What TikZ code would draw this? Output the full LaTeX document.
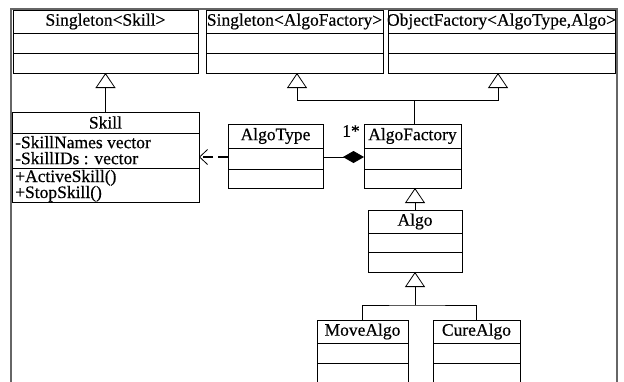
\documentclass[tikz,border=0pt]{standalone}
\usepackage{fontspec}
\setmainfont{Liberation Serif}
\newfontfamily\umlfont{Liberation Serif}[FakeBold=0.5]
\usetikzlibrary{arrows.meta,fit}
\newcommand\umlbox[8]{%
  \node[cls, fit={(#2,#3) (#4,#5)}] (#1) {};
  \draw[cl] (#1.west |- 0,#6) -- (#1.east |- 0,#6);
  \draw[cl] (#1.west |- 0,#7) -- (#1.east |- 0,#7);
  \node[ttl] (#1t) at ({(#2+#4)/2},{(#3+#6)/2}) {#8};
}
\begin{document}
\begin{tikzpicture}[x=1pt,y=-1pt,
  cls/.style={draw, line width=0.8pt, inner sep=0pt, outer sep=0pt, fill=white},
  cl/.style={line width=0.8pt},
  ttl/.style={font=\umlfont\fontsize{17.5}{16}\selectfont, inner sep=0pt},
  inh/.style={line width=0.8pt, -{Triangle[open,length=15pt,width=20pt,line width=0.8pt]}},
  lnk/.style={line width=0.8pt},
  dep/.style={line width=1.8pt, dash pattern=on 10pt off 5pt, -{Straight Barb[length=8pt,width=15pt,line width=0.8pt]}},
  comp/.style={line width=0.8pt, -{Diamond[length=21pt,width=12pt]}},
  frm/.style={line width=1.6pt, draw=black!60}]
\useasboundingbox (0,0) rectangle (624,381);
\clip (0,0) rectangle (624,381);
\fill[white] (0,0) rectangle (624,381);
\draw[frm] (11,385) -- (11,9) -- (617,9) -- (617,385);
\umlbox{ss}{13}{10}{198}{73}{33}{53}{Singleton<Skill>}
\umlbox{sa}{206}{10}{383}{73}{33}{53}{Singleton<AlgoFactory>}
\umlbox{of}{388}{10}{615}{73}{33}{53}{ObjectFactory<AlgoType,Algo>}
\umlbox{sk}{12}{112}{199}{202}{133}{168}{Skill}
\umlbox{at}{228}{124}{323}{188}{148}{169}{AlgoType}
\umlbox{af}{364}{124}{461}{188}{148}{169}{AlgoFactory}
\umlbox{al}{368}{210}{462}{272}{233}{252}{Algo}
\umlbox{ma}{317}{320}{408}{400}{343}{363}{MoveAlgo}
\umlbox{ca}{433}{320}{520}{400}{343}{363}{CureAlgo}
\node[ttl, anchor=west, align=left] (ska) at (15,150.2) {-SkillNames vector\\-SkillIDs : vector};
\node[ttl, anchor=west, align=left] (skm) at (15,185.8) {+ActiveSkill()\\+StopSkill()};
\node[ttl] (mult) at (351,131) {1*};
% inheritance
\draw[inh] (sk.north) -- (ss.south);
\coordinate (j1) at (414,100);
\coordinate (tsa) at (297,73);
\coordinate (tof) at (498,73);
\draw[lnk] (j1 |- af.north) -- (j1);
\draw[inh] (j1) -| (tsa);
\draw[inh] (j1) -| (tof);
\draw[inh] (al.north) -- (al.north |- af.south);
\coordinate (j2) at (al.south |- 0,305);
\draw[lnk] (ma.north) |- (j2) -| (ca.north);
\draw[inh] (j2) -- (al.south);
% dependency and composition
\draw[dep] (at.west |- 0,157) -- (sk.east |- 0,157);
\draw[comp] (at.east |- 0,157) -- (af.west |- 0,157);
\end{tikzpicture}
\end{document}
